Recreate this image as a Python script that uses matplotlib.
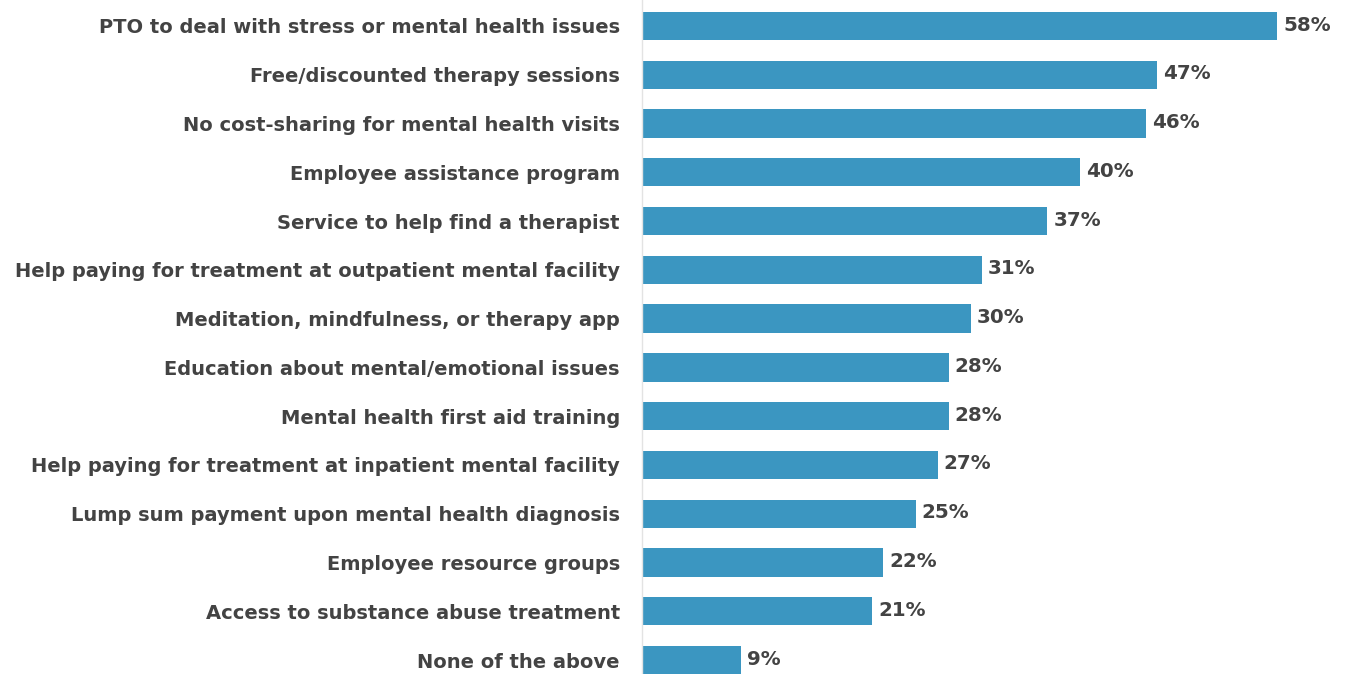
import matplotlib
matplotlib.use("Agg")
import matplotlib.pyplot as plt

categories = [
    "PTO to deal with stress or mental health issues",
    "Free/discounted therapy sessions",
    "No cost-sharing for mental health visits",
    "Employee assistance program",
    "Service to help find a therapist",
    "Help paying for treatment at outpatient mental facility",
    "Meditation, mindfulness, or therapy app",
    "Education about mental/emotional issues",
    "Mental health first aid training",
    "Help paying for treatment at inpatient mental facility",
    "Lump sum payment upon mental health diagnosis",
    "Employee resource groups",
    "Access to substance abuse treatment",
    "None of the above",
]
values = [58, 47, 46, 40, 37, 31, 30, 28, 28, 27, 25, 22, 21, 9]

bar_color = "#3B96C1"
text_color = "#434343"

plt.rcParams["font.family"] = ["DejaVu Sans"]

fig = plt.figure(figsize=(13.5, 6.74), dpi=100)
ax = fig.add_axes([0.4756, 0.0, 0.5244, 1.0])

ypos = list(range(len(categories)))
ax.barh(ypos, values, height=0.58, color=bar_color, zorder=2)

ax.set_xlim(0, 64.65)
ax.set_ylim(13.287, -0.533)

for y, v in zip(ypos, values):
    ax.text(v + 0.55, y - 0.02, f"{v}%", va="center", ha="left",
            fontsize=14.3, fontweight="bold", color=text_color)

ax.set_yticks(ypos)
ax.set_yticklabels(categories, fontsize=14.0, fontweight="bold", color=text_color,
                   va="center_baseline")
ax.tick_params(axis="y", length=0, pad=16)
ax.set_xticks([])

for side in ["top", "right", "bottom"]:
    ax.spines[side].set_visible(False)
ax.spines["left"].set_color("#e3e3e3")
ax.spines["left"].set_linewidth(1.0)

fig.savefig("out.png", dpi=100, facecolor="white")
